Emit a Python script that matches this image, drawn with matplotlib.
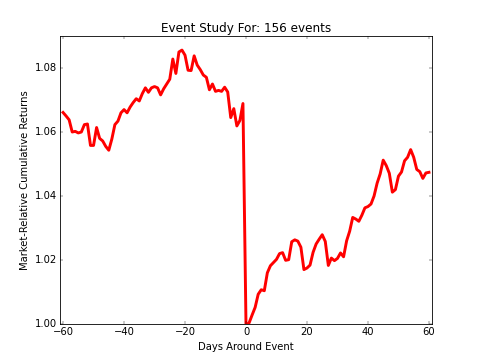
import matplotlib
matplotlib.use("Agg")
import matplotlib.pyplot as plt
import numpy as np

days = list(range(-60, 61))
returns = [
    1.0661, 1.0650, 1.0638, 1.0600, 1.0602, 1.0597, 1.0600, 1.0623, 1.0625, 1.0558,
    1.0558, 1.0614, 1.0580, 1.0572, 1.0555, 1.0543, 1.0578, 1.0623, 1.0634, 1.0660,
    1.0670, 1.0660, 1.0678, 1.0692, 1.0704, 1.0697, 1.0720, 1.0738, 1.0724, 1.0738,
    1.0742, 1.0738, 1.0716, 1.0735, 1.0750, 1.0765, 1.0828, 1.0783, 1.0850, 1.0856,
    1.0840, 1.0793, 1.0792, 1.0838, 1.0809, 1.0795, 1.0778, 1.0771, 1.0732, 1.0750,
    1.0727, 1.0730, 1.0727, 1.0740, 1.0725, 1.0645, 1.0673, 1.0619, 1.0636, 1.0689,
    0.9997, 1.0003, 1.0028, 1.0052, 1.0093, 1.0107, 1.0104, 1.0160, 1.0182, 1.0192,
    1.0202, 1.0220, 1.0223, 1.0199, 1.0201, 1.0257, 1.0263, 1.0259, 1.0240, 1.0170,
    1.0175, 1.0184, 1.0224, 1.0250, 1.0265, 1.0279, 1.0258, 1.0183, 1.0206, 1.0198,
    1.0205, 1.0222, 1.0210, 1.0260, 1.0290, 1.0333, 1.0328, 1.0321, 1.0340, 1.0363,
    1.0367, 1.0375, 1.0400, 1.0440, 1.0469, 1.0512, 1.0495, 1.0471, 1.0412, 1.0420,
    1.0462, 1.0475, 1.0510, 1.0521, 1.0545, 1.0521, 1.0483, 1.0476, 1.0455, 1.0472,
    1.0474,
]
x_ticks = [-60, -40, -20, 0, 20, 40, 60]
y_ticks = [1.00, 1.02, 1.04, 1.06, 1.08]
title = "Event Study For: 156 events"

plt.style.use("classic")
fig = plt.figure(figsize=(8, 6), dpi=60, facecolor="white")
ax = fig.add_subplot(111)
ax.plot(days, returns, color="red", linewidth=3.5)
ax.axhline(1.0, color="b", linewidth=1)
ax.set_xlim(-61, 61)
ax.set_ylim(1.0, 1.09)
ax.set_xticks(x_ticks)
ax.set_yticks(y_ticks)
ax.set_yticklabels(["%.2f" % v for v in y_ticks])
ax.set_title(title)
ax.set_xlabel("Days Around Event")
ax.set_ylabel("Market-Relative Cumulative Returns")
fig.savefig("out.png", dpi=60, facecolor="white")
